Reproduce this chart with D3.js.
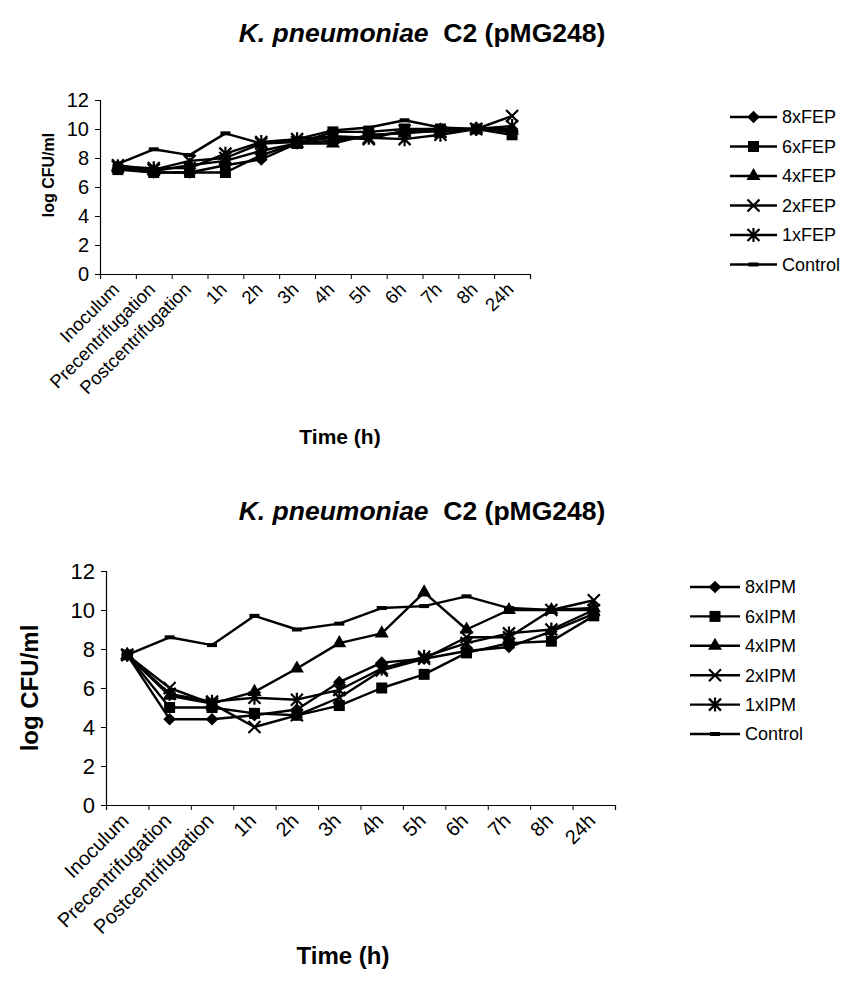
<!DOCTYPE html>
<html>
<head>
<meta charset="utf-8">
<style>
  body { margin: 0; background: #fff; }
  text { font-family: Arial, "Liberation Sans", sans-serif; fill: #000; }
</style>
</head>
<body>
<svg id="fig" width="844" height="981"></svg>
<script src="https://cdn.jsdelivr.net/npm/d3@7"></script>
<script>
// ---- data ----
const timePoints = ["Inoculum", "Precentrifugation", "Postcentrifugation", "1h", "2h", "3h", "4h", "5h", "6h", "7h", "8h", "24h"];
const yTicks = [0, 2, 4, 6, 8, 10, 12];
const markerKinds = ["diamond", "square", "triangle", "cross", "star", "dash"];

const fepNames = ["8xFEP", "6xFEP", "4xFEP", "2xFEP", "1xFEP", "Control"];
const fep8 = [7.3, 7.0, 7.0, 7.5, 7.9, 9.0, 9.2, 9.5, 9.8, 10.0, 10.0, 10.0];
const fep6 = [7.2, 7.0, 7.0, 7.0, 8.2, 9.0, 9.8, 9.8, 10.0, 10.0, 10.0, 9.6];
const fep4 = [7.4, 7.1, 7.5, 7.8, 8.5, 9.0, 9.0, 9.6, 9.7, 9.9, 10.0, 9.9];
const fep2 = [7.5, 7.2, 7.8, 8.0, 9.0, 9.1, 9.4, 9.3, 9.9, 9.8, 10.0, 10.9];
const fep1 = [7.4, 7.3, 7.3, 8.3, 9.1, 9.3, 9.5, 9.4, 9.3, 9.6, 10.0, 10.2];
const fepControl = [7.6, 8.6, 8.2, 9.7, 9.0, 9.3, 9.9, 10.1, 10.6, 10.1, 10.0, 9.8];

const ipmNames = ["8xIPM", "6xIPM", "4xIPM", "2xIPM", "1xIPM", "Control"];
const ipm8 = [7.7, 4.4, 4.4, 4.6, 4.9, 6.3, 7.3, 7.5, 7.9, 8.1, 8.9, 9.8];
const ipm6 = [7.7, 5.0, 5.0, 4.7, 4.6, 5.1, 6.0, 6.7, 7.8, 8.3, 8.4, 9.7];
const ipm4 = [7.7, 5.6, 5.2, 5.8, 7.0, 8.3, 8.8, 10.9, 9.0, 10.0, 10.0, 10.1];
const ipm2 = [7.7, 6.0, 5.2, 4.0, 4.6, 5.5, 6.9, 7.5, 8.6, 8.6, 10.0, 10.5];
const ipm1 = [7.7, 5.7, 5.3, 5.5, 5.4, 5.9, 7.0, 7.6, 8.3, 8.8, 9.0, 10.0];
const ipmControl = [7.7, 8.6, 8.2, 9.7, 9.0, 9.3, 10.1, 10.2, 10.7, 10.1, 10.0, 10.0];

const svg = d3.select("#fig");

function drawMarker(g, kind, x, y) {
    if (kind === "diamond") {
        g.append("path").attr("d", d3.symbol(d3.symbolSquare, 80)())
            .attr("transform", `translate(${x},${y}) rotate(45)`);
    } else if (kind === "square") {
        g.append("path").attr("d", d3.symbol(d3.symbolSquare, 121)())
            .attr("transform", `translate(${x},${y})`);
    } else if (kind === "triangle") {
        g.append("path").attr("d", d3.symbol(d3.symbolTriangle, 85)())
            .attr("transform", `translate(${x},${y})`);
    } else if (kind === "cross" || kind === "star") {
        const r = 6, p = d3.path();
        p.moveTo(-r, -r); p.lineTo(r, r);
        p.moveTo(-r, r); p.lineTo(r, -r);
        if (kind === "star") { p.moveTo(0, -r - 1); p.lineTo(0, r + 1); }
        g.append("path").attr("d", p.toString())
            .attr("transform", `translate(${x},${y})`)
            .attr("fill", "none").attr("stroke", "#000").attr("stroke-width", 2.2);
    } else {
        g.append("rect").attr("x", x - 5).attr("y", y - 2).attr("width", 10).attr("height", 4);
    }
}

function drawChart(cfg) {
    const g = svg.append("g");

    const xEdge = d3.scaleLinear().domain([0, timePoints.length]).range([cfg.left, cfg.right]);
    const x = d3.scaleBand().domain(timePoints).range([cfg.left, cfg.right]);
    const y = d3.scaleLinear().domain([0, 12]).range([cfg.bottom, cfg.top]);

    // title
    const title = g.append("text")
        .attr("x", cfg.titleX).attr("y", cfg.titleY)
        .attr("text-anchor", "middle")
        .style("font-size", cfg.titleSize + "px").style("font-weight", "bold");
    title.append("tspan").style("font-style", "italic").text("K. pneumoniae");
    title.append("tspan").text("\u00a0 C2 (pMG248)");

    // y axis
    const yAxis = g.append("g")
        .attr("transform", `translate(${cfg.left},0)`)
        .call(d3.axisLeft(y).tickValues(yTicks).tickSize(5).tickPadding(6).tickFormat(d3.format("d")));
    yAxis.selectAll("text").style("font-size", cfg.tickSize + "px").attr("font-family", null);
    yAxis.select(".domain").attr("stroke-width", 1.2);

    // x axis: ticks on category edges, labels under the centres
    const xAxis = g.append("g")
        .attr("transform", `translate(0,${cfg.bottom})`)
        .call(d3.axisBottom(xEdge).tickValues(d3.range(timePoints.length + 1)).tickSize(5).tickFormat(""));
    xAxis.select(".domain").attr("stroke-width", 1.2);

    const xLabels = g.append("g")
        .attr("transform", `translate(0,${cfg.bottom})`)
        .call(d3.axisBottom(x).tickSize(0).tickPadding(0));
    xLabels.select(".domain").remove();
    xLabels.selectAll("text")
        .attr("font-family", null)
        .style("font-size", cfg.xLabelSize + "px")
        .attr("text-anchor", "end")
        .attr("y", 0).attr("dy", "0.35em")
        .attr("transform", `translate(-2,${cfg.labelDrop}) rotate(-45)`);

    // axis titles
    g.append("text")
        .attr("transform", `translate(${cfg.yTitleX},${cfg.yTitleY}) rotate(-90)`)
        .attr("text-anchor", "middle")
        .style("font-size", cfg.yTitleSize + "px").style("font-weight", "bold")
        .text("log CFU/ml");
    g.append("text")
        .attr("x", cfg.xTitleX).attr("y", cfg.xTitleY)
        .attr("text-anchor", "middle")
        .style("font-size", cfg.xTitleSize + "px").style("font-weight", "bold")
        .text("Time (h)");

    // series
    const line = d3.line()
        .x((d, i) => x(timePoints[i]) + x.bandwidth() / 2)
        .y(d => y(d));

    cfg.series.forEach(vals => {
        g.append("path")
            .attr("d", line(vals))
            .attr("fill", "none").attr("stroke", "#000").attr("stroke-width", 2.4)
            .attr("stroke-linejoin", "round");
    });
    cfg.series.forEach((vals, si) => {
        const mg = g.append("g").attr("fill", "#000");
        vals.forEach((v, i) => drawMarker(mg, markerKinds[si], x(timePoints[i]) + x.bandwidth() / 2, y(v)));
    });

    // legend
    const lg = g.append("g");
    cfg.names.forEach((name, i) => {
        const ly = cfg.legendY + i * cfg.legendStep;
        lg.append("line")
            .attr("x1", cfg.legendX).attr("x2", cfg.legendX + cfg.legendLen)
            .attr("y1", ly).attr("y2", ly)
            .attr("stroke", "#000").attr("stroke-width", 2.4);
        const mg = lg.append("g").attr("fill", "#000");
        drawMarker(mg, markerKinds[i], cfg.legendX + cfg.legendLen / 2, ly);
        lg.append("text")
            .attr("x", cfg.legendX + cfg.legendLen + 5).attr("y", ly).attr("dy", "0.35em")
            .style("font-size", cfg.legendSize + "px")
            .text(name);
    });
}

drawChart({
    series: [fep8, fep6, fep4, fep2, fep1, fepControl], names: fepNames,
    left: 100, right: 530, top: 100, bottom: 274,
    titleX: 422, titleY: 42, titleSize: 26.5,
    tickSize: 20, xLabelSize: 18.5, labelDrop: 12,
    yTitleX: 54, yTitleY: 175, yTitleSize: 16,
    xTitleX: 340, xTitleY: 444, xTitleSize: 21,
    legendX: 730, legendY: 117, legendStep: 29.5, legendLen: 47, legendSize: 18
});

drawChart({
    series: [ipm8, ipm6, ipm4, ipm2, ipm1, ipmControl], names: ipmNames,
    left: 106, right: 615, top: 571, bottom: 805,
    titleX: 422, titleY: 520, titleSize: 26.5,
    tickSize: 22, xLabelSize: 20, labelDrop: 12,
    yTitleX: 38, yTitleY: 688, yTitleSize: 24,
    xTitleX: 343, xTitleY: 964, xTitleSize: 24,
    legendX: 690, legendY: 587, legendStep: 29.4, legendLen: 50, legendSize: 18
});
</script>
</body>
</html>
